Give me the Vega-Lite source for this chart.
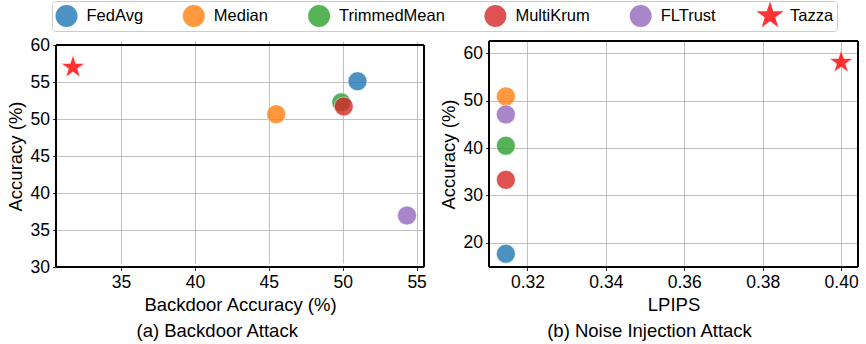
{
  "$schema": "https://vega.github.io/schema/vega-lite/v6.json",
  "background": "white",
  "autosize": "none",
  "width": 802,
  "height": 226,
  "padding": {"left": 56, "top": 41, "right": 8, "bottom": 77},
  "datasets": {
    "backdoor": [
      {"method": "FedAvg", "bd": 51.0, "acc": 55.1},
      {"method": "Median", "bd": 45.5, "acc": 50.65},
      {"method": "TrimmedMean", "bd": 49.9, "acc": 52.25},
      {"method": "MultiKrum", "bd": 50.07, "acc": 51.7},
      {"method": "FLTrust", "bd": 54.35, "acc": 36.95},
      {"method": "Tazza", "bd": 31.75, "acc": 57.0}
    ],
    "noise": [
      {"method": "FedAvg", "lpips": 0.3145, "acc": 17.7},
      {"method": "Median", "lpips": 0.3145, "acc": 50.9},
      {"method": "TrimmedMean", "lpips": 0.3145, "acc": 40.5},
      {"method": "MultiKrum", "lpips": 0.3145, "acc": 33.3},
      {"method": "FLTrust", "lpips": 0.3145, "acc": 47.1},
      {"method": "Tazza", "lpips": 0.4, "acc": 58.1}
    ]
  },
  "config": {
    "font": "Liberation Sans",
    "view": {"stroke": null},
    "axis": {
      "domain": false,
      "grid": true,
      "gridColor": "#b0b0b0",
      "gridWidth": 0.8,
      "tickColor": "black",
      "tickSize": 3.5,
      "tickWidth": 0.8,
      "labelColor": "black",
      "labelFont": "Liberation Sans",
      "labelFontSize": 17.5,
      "labelPadding": 3,
      "titleFont": "Liberation Sans",
      "titleFontSize": 18.5,
      "titleFontWeight": "normal",
      "titleColor": "black",
      "titlePadding": 4
    },
    "legend": {
      "orient": "none",
      "legendX": -4,
      "legendY": -40,
      "direction": "horizontal",
      "columns": 6,
      "symbolSize": 484,
      "symbolStrokeWidth": 0,
      "labelFont": "Liberation Sans",
      "labelFontSize": 16.5,
      "labelColor": "black",
      "labelOffset": 9,
      "columnPadding": 39.3,
      "padding": 3.5,
      "strokeColor": "#cccccc",
      "cornerRadius": 3,
      "fillColor": "white"
    }
  },
  "resolve": {
    "scale": {"x": "independent", "y": "independent"},
    "axis": {"x": "independent", "y": "independent"}
  },
  "layer": [
    {
      "data": {"name": "backdoor"},
      "layer": [
        {
          "mark": {"type": "point", "filled": true, "size": 361, "stroke": "white", "strokeWidth": 0.6},
          "encoding": {
            "x": {"field": "bd", "type": "quantitative", "title": "Backdoor Accuracy (%)",
                  "scale": {"domain": [30.6, 55.5], "range": [0, 368], "nice": false, "zero": false},
                  "axis": {"values": [35, 40, 45, 50, 55], "orient": "bottom", "grid": true}},
            "y": {"field": "acc", "type": "quantitative", "title": "Accuracy (%)",
                  "scale": {"domain": [30, 60], "range": [226, 4], "nice": false, "zero": false},
                  "axis": {"values": [30, 35, 40, 45, 50, 55, 60], "orient": "left", "grid": true, "titlePadding": 4.5}},
            "color": {"field": "method", "type": "nominal", "title": null,
                      "scale": {"domain": ["FedAvg", "Median", "TrimmedMean", "MultiKrum", "FLTrust", "Tazza"],
                                "range": ["#1f77b4", "#ff7f0e", "#2ca02c", "#d62728", "#9467bd", "#ff0000"]}},
            "shape": {"field": "method", "type": "nominal", "title": null,
                      "scale": {"domain": ["FedAvg", "Median", "TrimmedMean", "MultiKrum", "FLTrust", "Tazza"],
                                "range": ["circle", "circle", "circle", "circle", "circle",
                                          "M0,-1.3L0.2919,-0.4017L1.2363,-0.4017L0.4723,0.1534L0.7644,1.0517L0,0.4966L-0.7644,1.0517L-0.4723,0.1534L-1.2363,-0.4017L-0.2919,-0.4017Z"]}},
            "opacity": {"field": "method", "type": "nominal", "title": null,
                      "scale": {"domain": ["FedAvg", "Median", "TrimmedMean", "MultiKrum", "FLTrust", "Tazza"],
                                "range": [0.8, 0.8, 0.8, 0.8, 0.8, 1]}}
          }
        },
        {
          "mark": {"type": "rect", "fillOpacity": 0, "stroke": "black", "strokeWidth": 1},
          "encoding": {
            "x": {"datum": 30.6, "type": "quantitative", "title": "Backdoor Accuracy (%)",
                  "axis": {"values": [35, 40, 45, 50, 55], "orient": "bottom", "grid": true}},
            "x2": {"datum": 55.5},
            "y": {"datum": 30, "type": "quantitative", "title": "Accuracy (%)",
                  "axis": {"values": [30, 35, 40, 45, 50, 55, 60], "orient": "left", "grid": true, "titlePadding": 4.5}},
            "y2": {"datum": 60}
          }
        }
      ]
    },
    {
      "data": {"name": "backdoor"},
      "mark": {"type": "point", "opacity": 0},
      "encoding": {
        "x": {"field": "bd", "type": "quantitative",
              "scale": {"domain": [30.6, 55.5], "range": [-46.6, 368], "nice": false, "zero": false},
              "axis": {"title": "(a) Backdoor Attack", "orient": "bottom", "labels": false, "ticks": false,
                       "domain": false, "grid": false, "titleFontSize": 18.5, "titlePadding": 54}},
        "y": {"field": "acc", "type": "quantitative",
              "scale": {"domain": [30, 60], "range": [226, 4], "nice": false, "zero": false},
              "axis": null}
      }
    },
    {
      "data": {"name": "noise"},
      "layer": [
        {
          "mark": {"type": "point", "filled": true, "size": 361, "stroke": "white", "strokeWidth": 0.6},
          "encoding": {
            "x": {"field": "lpips", "type": "quantitative", "title": "LPIPS",
                  "scale": {"domain": [0.3102, 0.4043], "range": [433, 802], "nice": false, "zero": false},
                  "axis": {"values": [0.32, 0.34, 0.36, 0.38, 0.40], "format": ".2f", "orient": "bottom", "grid": true}},
            "y": {"field": "acc", "type": "quantitative", "title": "Accuracy (%)",
                  "scale": {"domain": [14.9, 62.6], "range": [226, 0], "nice": false, "zero": false},
                  "axis": {"values": [20, 30, 40, 50, 60], "orient": "left", "offset": -433, "grid": true, "titlePadding": 4.5}},
            "color": {"field": "method", "type": "nominal", "title": null},
            "shape": {"field": "method", "type": "nominal", "title": null},
            "opacity": {"field": "method", "type": "nominal", "title": null}
          }
        },
        {
          "mark": {"type": "rect", "fillOpacity": 0, "stroke": "black", "strokeWidth": 1},
          "encoding": {
            "x": {"datum": 0.3102, "type": "quantitative", "title": "LPIPS",
                  "axis": {"values": [0.32, 0.34, 0.36, 0.38, 0.40], "format": ".2f", "orient": "bottom", "grid": true}},
            "x2": {"datum": 0.4043},
            "y": {"datum": 14.9, "type": "quantitative", "title": "Accuracy (%)",
                  "axis": {"values": [20, 30, 40, 50, 60], "orient": "left", "offset": -433, "grid": true, "titlePadding": 4.5}},
            "y2": {"datum": 62.6}
          }
        }
      ]
    },
    {
      "data": {"name": "noise"},
      "mark": {"type": "point", "opacity": 0},
      "encoding": {
        "x": {"field": "lpips", "type": "quantitative",
              "scale": {"domain": [0.3102, 0.4043], "range": [384, 802], "nice": false, "zero": false},
              "axis": {"title": "(b) Noise Injection Attack", "orient": "bottom", "labels": false, "ticks": false,
                       "domain": false, "grid": false, "titleFontSize": 18.5, "titlePadding": 54}},
        "y": {"field": "acc", "type": "quantitative",
              "scale": {"domain": [14.9, 62.6], "range": [226, 0], "nice": false, "zero": false},
              "axis": null}
      }
    }
  ]
}
